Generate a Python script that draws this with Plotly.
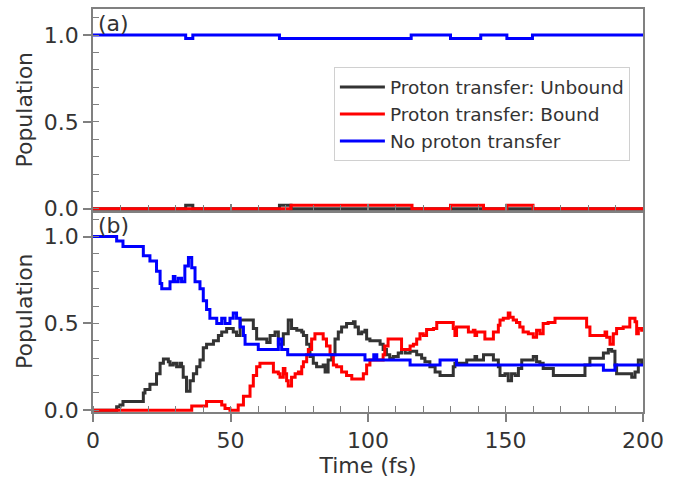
import plotly.graph_objects as go

# ---------------- data ----------------
# Panel (a)
t_unbound_a = [0, 33.7, 36.3, 67.8, 72.0, 200]
p_unbound_a = [0, 0.02, 0, 0.02, 0, 0]
t_bound_a = [0, 72.0, 116.0, 130.0, 142.0, 150.5, 160.0, 200]
p_bound_a = [0, 0.02, 0, 0.02, 0, 0.02, 0, 0]
t_none_a = [0, 33.7, 36.3, 67.8, 115.7, 130.0, 141.0, 150.5, 159.8, 200]
p_none_a = [1.0, 0.98, 1.0, 0.98, 1.0, 0.98, 1.0, 0.98, 1.0, 1.0]

# Panel (b)
t_unbound_b = [0, 8.6, 9.8, 10.9, 18.3, 18.9, 20.7, 23.1, 24.4, 25.6, 27.4, 28.0, 29.2,
               30.4, 31.6, 32.2, 32.8, 34.0, 35.3, 36.5, 37.7, 38.9, 40.1, 41.3, 43.8,
               45.6, 46.8, 48.6, 51.0, 52.2, 53.5, 58.3, 59.5, 63.2, 64.4, 66.2, 67.4,
               69.2, 71.0, 72.2, 74.1, 75.9, 76.5, 77.7, 78.9, 80.1, 81.3, 83.7, 84.4,
               85.5, 86.8, 88.0, 89.2, 90.4, 92.2, 94.7, 95.3, 96.5, 97.7, 98.9, 99.5,
               100.7, 104.4, 105.5, 106.7, 107.9, 109.2, 111.0, 112.2, 113.5, 115.3,
               117.7, 119.5, 120.7, 122.5, 124.4, 126.2, 131.0, 131.6, 135.9, 138.9,
               139.5, 142.0, 145.6, 147.4, 148.0, 149.8, 151.0, 152.2, 153.5, 154.7,
               155.9, 160.1, 161.3, 162.5, 163.7, 167.4, 178.9, 180.7, 185.6, 187.4,
               188.6, 189.8, 190.4, 195.9, 197.1, 198.3, 199.5, 200]
p_unbound_b = [0, 0.02, 0.03, 0.05, 0.10, 0.12, 0.15, 0.21, 0.27, 0.295, 0.28, 0.26, 0.27,
               0.25, 0.27, 0.25, 0.19, 0.11, 0.17, 0.21, 0.25, 0.29, 0.36, 0.38, 0.40,
               0.43, 0.45, 0.47, 0.45, 0.43, 0.52, 0.47, 0.41, 0.39, 0.43, 0.45, 0.38,
               0.44, 0.52, 0.47, 0.46, 0.45, 0.43, 0.38, 0.31, 0.27, 0.25, 0.26, 0.22,
               0.29, 0.32, 0.41, 0.45, 0.48, 0.50, 0.51, 0.48, 0.44, 0.45, 0.46, 0.41,
               0.40, 0.38, 0.35, 0.32, 0.30, 0.31, 0.33, 0.35, 0.33, 0.34,
               0.32, 0.30, 0.28, 0.25, 0.22, 0.20, 0.25, 0.27, 0.29, 0.31,
               0.29, 0.32, 0.29, 0.25, 0.20, 0.21, 0.17, 0.21, 0.20, 0.24,
               0.29, 0.31, 0.28, 0.27, 0.24, 0.20, 0.26, 0.30, 0.33, 0.35,
               0.34, 0.26, 0.21, 0.19, 0.22, 0.29, 0.27, 0.27]

t_bound_b = [0, 35.9, 41.3, 46.8, 48.0, 49.8, 52.8, 54.7, 57.1, 58.3, 59.5, 60.7, 65.6,
             67.4, 68.0, 69.2, 69.8, 70.4, 71.0, 72.2, 73.5, 74.7, 75.3, 75.9, 76.5,
             77.7, 78.3, 79.5, 80.7, 83.7, 84.9, 86.2, 87.4, 88.6, 90.4, 92.2, 94.1,
             98.3, 99.5, 100.7, 105.5, 106.1, 107.3, 112.2, 115.3, 116.5, 117.7, 118.9,
             120.1, 121.3, 123.8, 125.0, 131.0, 131.6, 132.2, 136.5, 138.3, 138.9,
             139.5, 142.5, 145.6, 147.4, 148.0, 149.2, 151.0, 151.6, 152.8, 154.0,
             155.2, 156.4, 158.3, 160.1, 161.3, 162.5, 163.7, 165.5, 168.0, 179.5,
             180.7, 186.2, 186.8, 188.0, 189.2, 190.4, 192.8, 195.2, 197.1, 197.7,
             198.3, 199.5, 200]
p_bound_b = [0, 0.025, 0.05, 0.03, 0.01, 0.0, 0.03, 0.08, 0.14, 0.20, 0.25, 0.27, 0.22,
             0.21, 0.19, 0.24, 0.21, 0.17, 0.14, 0.19, 0.21, 0.22, 0.21, 0.25, 0.28,
             0.32, 0.35, 0.41, 0.44, 0.41, 0.37, 0.32, 0.26, 0.25, 0.22, 0.20, 0.18,
             0.21, 0.26, 0.29, 0.32, 0.37, 0.41, 0.35, 0.37, 0.38, 0.41, 0.44,
             0.43, 0.465, 0.47, 0.505, 0.47, 0.43, 0.48, 0.45, 0.46, 0.43,
             0.45, 0.41, 0.45, 0.49, 0.52, 0.53, 0.56, 0.535, 0.52, 0.505,
             0.48, 0.45, 0.44, 0.42, 0.46, 0.44, 0.50, 0.505, 0.53, 0.48,
             0.43, 0.45, 0.42, 0.38, 0.44, 0.47, 0.48, 0.53, 0.51, 0.44,
             0.47, 0.46, 0.46]

t_none_b = [0, 8.6, 10.9, 18.3, 20.7, 23.1, 24.4, 25.0, 28.0, 29.2, 29.8, 31.0, 32.2,
            33.4, 34.7, 35.9, 37.1, 38.9, 40.1, 41.3, 42.5, 45.0, 46.8, 48.0, 49.8,
            51.0, 52.2, 53.5, 54.7, 55.3, 60.1, 67.4, 68.6, 70.8, 98.9, 102.1, 103.2,
            115.3, 126.2, 132.2, 185.6, 189.8, 200]
p_none_b = [1.0, 0.975, 0.943, 0.89, 0.86, 0.80, 0.73, 0.70, 0.74, 0.77, 0.74, 0.76, 0.74,
            0.83, 0.88, 0.82, 0.74, 0.70, 0.63, 0.58, 0.53, 0.50, 0.53, 0.50, 0.53,
            0.56, 0.53, 0.48, 0.43, 0.38, 0.35, 0.41, 0.35, 0.32, 0.29, 0.32, 0.29,
            0.26, 0.29, 0.26, 0.23, 0.26, 0.26]

labels = ["Proton transfer: Unbound", "Proton transfer: Bound", "No proton transfer"]
colors = ["#333333", "#ff0000", "#0000ff"]

# ---------------- figure ----------------
fig = go.Figure()
FONT = "DejaVu Sans"
TXT = "#333333"
AX = "#808080"

panel_a = [(t_unbound_a, p_unbound_a), (t_bound_a, p_bound_a), (t_none_a, p_none_a)]
panel_b = [(t_unbound_b, p_unbound_b), (t_bound_b, p_bound_b), (t_none_b, p_none_b)]

for i, (t, p) in enumerate(panel_a):
    fig.add_trace(go.Scatter(x=t, y=p, mode="lines", line=dict(color=colors[i], width=3, shape="hv"),
                             xaxis="x2", yaxis="y2", showlegend=False, hoverinfo="skip"))
for i, (t, p) in enumerate(panel_b):
    fig.add_trace(go.Scatter(x=t, y=p, mode="lines", line=dict(color=colors[i], width=3, shape="hv"),
                             xaxis="x", yaxis="y", showlegend=False, hoverinfo="skip"))
# legend entries (in panel a legend box)
for i in range(3):
    fig.add_trace(go.Scatter(x=[None], y=[None], mode="lines", name=labels[i],
                             line=dict(color=colors[i], width=3), xaxis="x2", yaxis="y2"))

common_y = dict(range=[-0.01, 1.15], tick0=0, dtick=0.5, tickformat=".1f",
                ticks="outside", ticklen=8, tickwidth=1.5, tickcolor=AX,
                showline=True, linecolor=AX, linewidth=1.5, mirror=True,
                showgrid=False, zeroline=False,
                tickfont=dict(size=22, color=TXT, family=FONT),
                minor=dict(tick0=0, dtick=0.1, ticks="inside", ticklen=6, tickwidth=1.2, tickcolor=AX),
                title=dict(text="Population", font=dict(size=22, color=TXT, family=FONT), standoff=5))

fig.update_layout(
    width=679, height=480,
    margin=dict(l=93, r=36, t=7, b=65),
    paper_bgcolor="white", plot_bgcolor="white",
    font=dict(family=FONT, color=TXT),
    xaxis=dict(domain=[0, 1], range=[0, 200], anchor="y", tick0=0, dtick=50,
               ticks="outside", ticklen=8, tickwidth=1.5, tickcolor=AX,
               showline=True, linecolor=AX, linewidth=1.5, mirror=True,
               showgrid=False, zeroline=False,
               tickfont=dict(size=22, color=TXT, family=FONT),
               minor=dict(tick0=0, dtick=10, ticks="inside", ticklen=6, tickwidth=1.2, tickcolor=AX),
               title=dict(text="Time (fs)", font=dict(size=22, color=TXT, family=FONT), standoff=4)),
    xaxis2=dict(domain=[0, 1], range=[0, 200], anchor="y2", matches="x", tick0=0, dtick=50,
                ticks="inside", ticklen=7, tickwidth=1.5, tickcolor=AX, showticklabels=False,
                showline=True, linecolor=AX, linewidth=1.5, mirror=True,
                showgrid=False, zeroline=False,
                minor=dict(tick0=0, dtick=10, ticks="inside", ticklen=6, tickwidth=1.2, tickcolor=AX)),
    yaxis=dict(domain=[0, 0.5], anchor="x", **common_y),
    yaxis2=dict(domain=[0.5, 1], anchor="x2", **common_y),
    legend=dict(x=0.438, y=0.855, xanchor="left", yanchor="top", xref="paper", yref="paper",
                bgcolor="white", bordercolor="#d0d0d0", borderwidth=1, itemwidth=45,
                font=dict(size=18.5, color=TXT, family=FONT), tracegroupgap=0),
    annotations=[
        dict(text="(a)", x=0.005, y=1.0, xref="paper", yref="paper", xanchor="left", yanchor="top",
             showarrow=False, font=dict(size=22, color=TXT, family=FONT)),
        dict(text="(b)", x=0.005, y=0.5, xref="paper", yref="paper", xanchor="left", yanchor="top",
             showarrow=False, font=dict(size=22, color=TXT, family=FONT)),
    ],
)

fig.write_html("out.html")
